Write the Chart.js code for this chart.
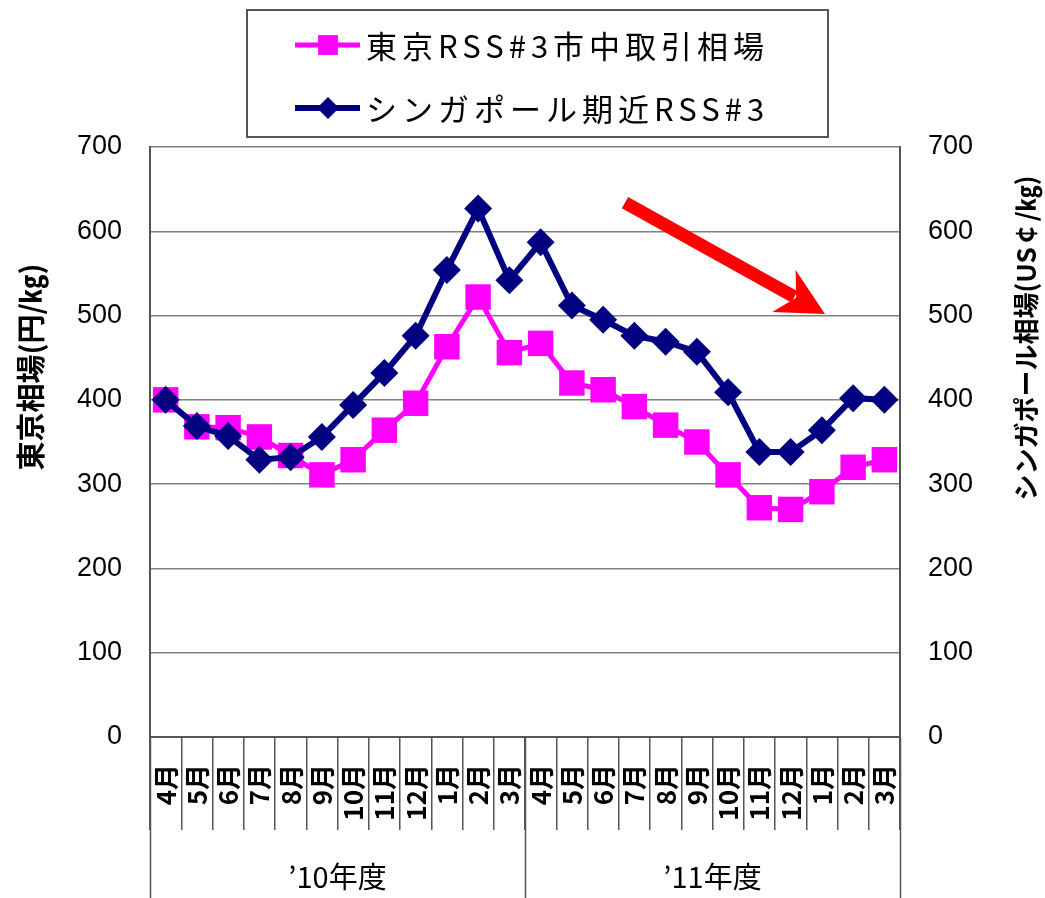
<!DOCTYPE html>
<html>
<head>
<meta charset="utf-8">
<script src="https://cdn.jsdelivr.net/npm/chart.js@4/dist/chart.umd.min.js"></script>
<style>
  html, body { margin: 0; padding: 0; background: #fff; }
  #wrap { width: 1045px; height: 898px; position: relative; }
</style>
</head>
<body>
<div id="wrap"><canvas id="c"></canvas></div>
<script>
// Months of the fiscal year (April to March), two fiscal years
const months = ['4月','5月','6月','7月','8月','9月','10月','11月','12月','1月','2月','3月',
                '4月','5月','6月','7月','8月','9月','10月','11月','12月','1月','2月','3月'];
const fiscalYears = ['’10年度', '’11年度'];
const monthsPerYear = 12;

// Tokyo RSS#3 spot price (yen/kg)
const tokyoRSS3 = [400, 368, 367, 356, 334, 311, 329, 364, 396, 463, 522, 456,
                   467, 420, 412, 392, 370, 350, 311, 272, 270, 291, 320, 329];
// Singapore RSS#3 nearby (US cents/kg)
const singaporeRSS3 = [400, 369, 357, 329, 332, 356, 394, 432, 476, 554, 627, 542,
                       587, 512, 495, 476, 469, 457, 409, 338, 338, 364, 402, 400];

const seriesNames = ['東京RSS#3市中取引相場', 'シンガポール期近RSS#3'];
const leftTitle = '東京相場(円/㎏)';
const rightTitle = 'シンガポール相場(US￠/㎏)';
const axisMin = 0, axisMax = 700, axisStep = 100;

// Downward trend arrow, in (category index, value) units
const trendFrom = [14.7, 634];
const trendTo = [21.1, 502];

const JP = "'Noto Sans CJK JP', 'Liberation Sans', sans-serif";
const NUM = "'Liberation Sans', Arial, sans-serif";
const MAGENTA = '#FF00FF';
const NAVY = '#000080';
const AXIS = '#555555';

const decorations = {
  id: 'decorations',
  afterDraw(chart) {
    const ctx = chart.ctx;
    const area = chart.chartArea;
    const xs = chart.scales.x;
    const ys = chart.scales.y;
    const H = chart.height;

    ctx.save();

    // Fiscal-year separators and labels under the month ticks
    ctx.strokeStyle = AXIS;
    ctx.lineWidth = 1.5;
    const bounds = [area.left];
    for (let g = 1; g < fiscalYears.length; g++) {
      const i = g * monthsPerYear;
      bounds.push((xs.getPixelForValue(i - 1) + xs.getPixelForValue(i)) / 2);
    }
    bounds.push(area.right);
    bounds.forEach(bx => {
      ctx.beginPath();
      ctx.moveTo(Math.round(bx) + 0.5, area.bottom);
      ctx.lineTo(Math.round(bx) + 0.5, H);
      ctx.stroke();
    });
    ctx.fillStyle = '#000';
    ctx.font = '29px ' + JP;
    ctx.textAlign = 'center';
    ctx.textBaseline = 'middle';
    fiscalYears.forEach((t, g) => {
      ctx.fillText(t, (bounds[g] + bounds[g + 1]) / 2, 877);
    });

    // Axis titles
    ctx.font = 'bold 29px ' + JP;
    ctx.save();
    ctx.translate(31, 367);
    ctx.rotate(-Math.PI / 2);
    ctx.fillText(leftTitle, 0, 0);
    ctx.restore();
    ctx.font = 'bold 26px ' + JP;
    ctx.save();
    ctx.translate(1026, 338);
    ctx.rotate(-Math.PI / 2);
    ctx.fillText(rightTitle, 0, 0);
    ctx.restore();

    // Legend box
    const box = { l: 247, t: 10, r: 828, b: 137 };
    ctx.strokeStyle = AXIS;
    ctx.lineWidth = 2;
    ctx.strokeRect(box.l, box.t, box.r - box.l, box.b - box.t);
    const rows = [45, 108];
    ctx.font = '31px ' + JP;
    ctx.textAlign = 'left';
    ctx.textBaseline = 'middle';
    if ('letterSpacing' in ctx) ctx.letterSpacing = '5px';
    chart.data.datasets.forEach((ds, k) => {
      const y = rows[k];
      ctx.strokeStyle = ds.borderColor;
      ctx.lineWidth = ds.borderWidth;
      ctx.beginPath();
      ctx.moveTo(295, y);
      ctx.lineTo(360, y);
      ctx.stroke();
      ctx.fillStyle = ds.backgroundColor;
      Chart.helpers.drawPoint(ctx, {
        pointStyle: ds.pointStyle,
        radius: k === 0 ? 14 : 11,
        rotation: 0,
        borderWidth: 0
      }, 328, y);
      ctx.fillStyle = '#000';
      ctx.fillText(ds.label, 366, y + 1);
    });
    if ('letterSpacing' in ctx) ctx.letterSpacing = '0px';

    // Trend arrow
    const x0 = xs.getPixelForValue(trendFrom[0]);
    const y0 = ys.getPixelForValue(trendFrom[1]);
    const x1 = xs.getPixelForValue(trendTo[0]);
    const y1 = ys.getPixelForValue(trendTo[1]);
    const ang = Math.atan2(y1 - y0, x1 - x0);
    const headLen = 47, headHalf = 24, notch = 33;
    const cos = Math.cos(ang), sin = Math.sin(ang);
    ctx.strokeStyle = '#FF0000';
    ctx.fillStyle = '#FF0000';
    ctx.lineWidth = 13;
    ctx.lineCap = 'butt';
    ctx.beginPath();
    ctx.moveTo(x0, y0);
    ctx.lineTo(x1 - cos * (notch + 2), y1 - sin * (notch + 2));
    ctx.stroke();
    const bx = x1 - cos * headLen, by = y1 - sin * headLen;
    ctx.beginPath();
    ctx.moveTo(x1, y1);
    ctx.lineTo(bx - sin * headHalf, by + cos * headHalf);
    ctx.lineTo(x1 - cos * notch, y1 - sin * notch);
    ctx.lineTo(bx + sin * headHalf, by - cos * headHalf);
    ctx.closePath();
    ctx.fill();

    ctx.restore();
  }
};

new Chart(document.getElementById('c'), {
  type: 'line',
  data: {
    labels: months,
    datasets: [
      {
        label: seriesNames[0],
        data: tokyoRSS3,
        yAxisID: 'y',
        borderColor: MAGENTA,
        backgroundColor: MAGENTA,
        borderWidth: 5,
        pointStyle: 'rect',
        pointRadius: 18,
        pointBorderWidth: 0,
        pointBackgroundColor: MAGENTA,
        tension: 0,
        order: 1
      },
      {
        label: seriesNames[1],
        data: singaporeRSS3,
        yAxisID: 'y2',
        borderColor: NAVY,
        backgroundColor: NAVY,
        borderWidth: 6,
        pointStyle: 'rectRot',
        pointRadius: 14,
        pointBorderWidth: 0,
        pointBackgroundColor: NAVY,
        tension: 0,
        order: 0
      }
    ]
  },
  options: {
    responsive: true,
    maintainAspectRatio: false,
    animation: false,
    devicePixelRatio: 1,
    layout: { padding: { top: 147, left: 0, right: 0, bottom: 0 } },
    plugins: {
      legend: { display: false },
      tooltip: { enabled: false }
    },
    scales: {
      x: {
        type: 'category',
        offset: true,
        grid: {
          offset: true,
          drawOnChartArea: false,
          drawTicks: true,
          tickLength: 93,
          color: AXIS,
          lineWidth: 1.5
        },
        border: { display: true, color: AXIS, width: 2 },
        ticks: {
          autoSkip: false,
          minRotation: 90,
          maxRotation: 90,
          padding: -66,
          color: '#000',
          font: { family: JP, size: 26, weight: 'bold' }
        },
        afterFit(s) { s.height = 161; }
      },
      y: {
        position: 'left',
        min: axisMin,
        max: axisMax,
        ticks: {
          stepSize: axisStep,
          padding: 28,
          color: '#000',
          font: { family: NUM, size: 27 }
        },
        grid: { color: '#808080', lineWidth: 1.5, drawTicks: false },
        border: { display: true, color: AXIS, width: 2 },
        afterFit(s) { s.width = 150; }
      },
      y2: {
        position: 'right',
        min: axisMin,
        max: axisMax,
        ticks: {
          stepSize: axisStep,
          padding: 28,
          color: '#000',
          font: { family: NUM, size: 27 }
        },
        grid: { drawOnChartArea: false, drawTicks: false },
        border: { display: true, color: AXIS, width: 2 },
        afterFit(s) { s.width = 145; }
      }
    }
  },
  plugins: [decorations]
});
</script>
</body>
</html>
